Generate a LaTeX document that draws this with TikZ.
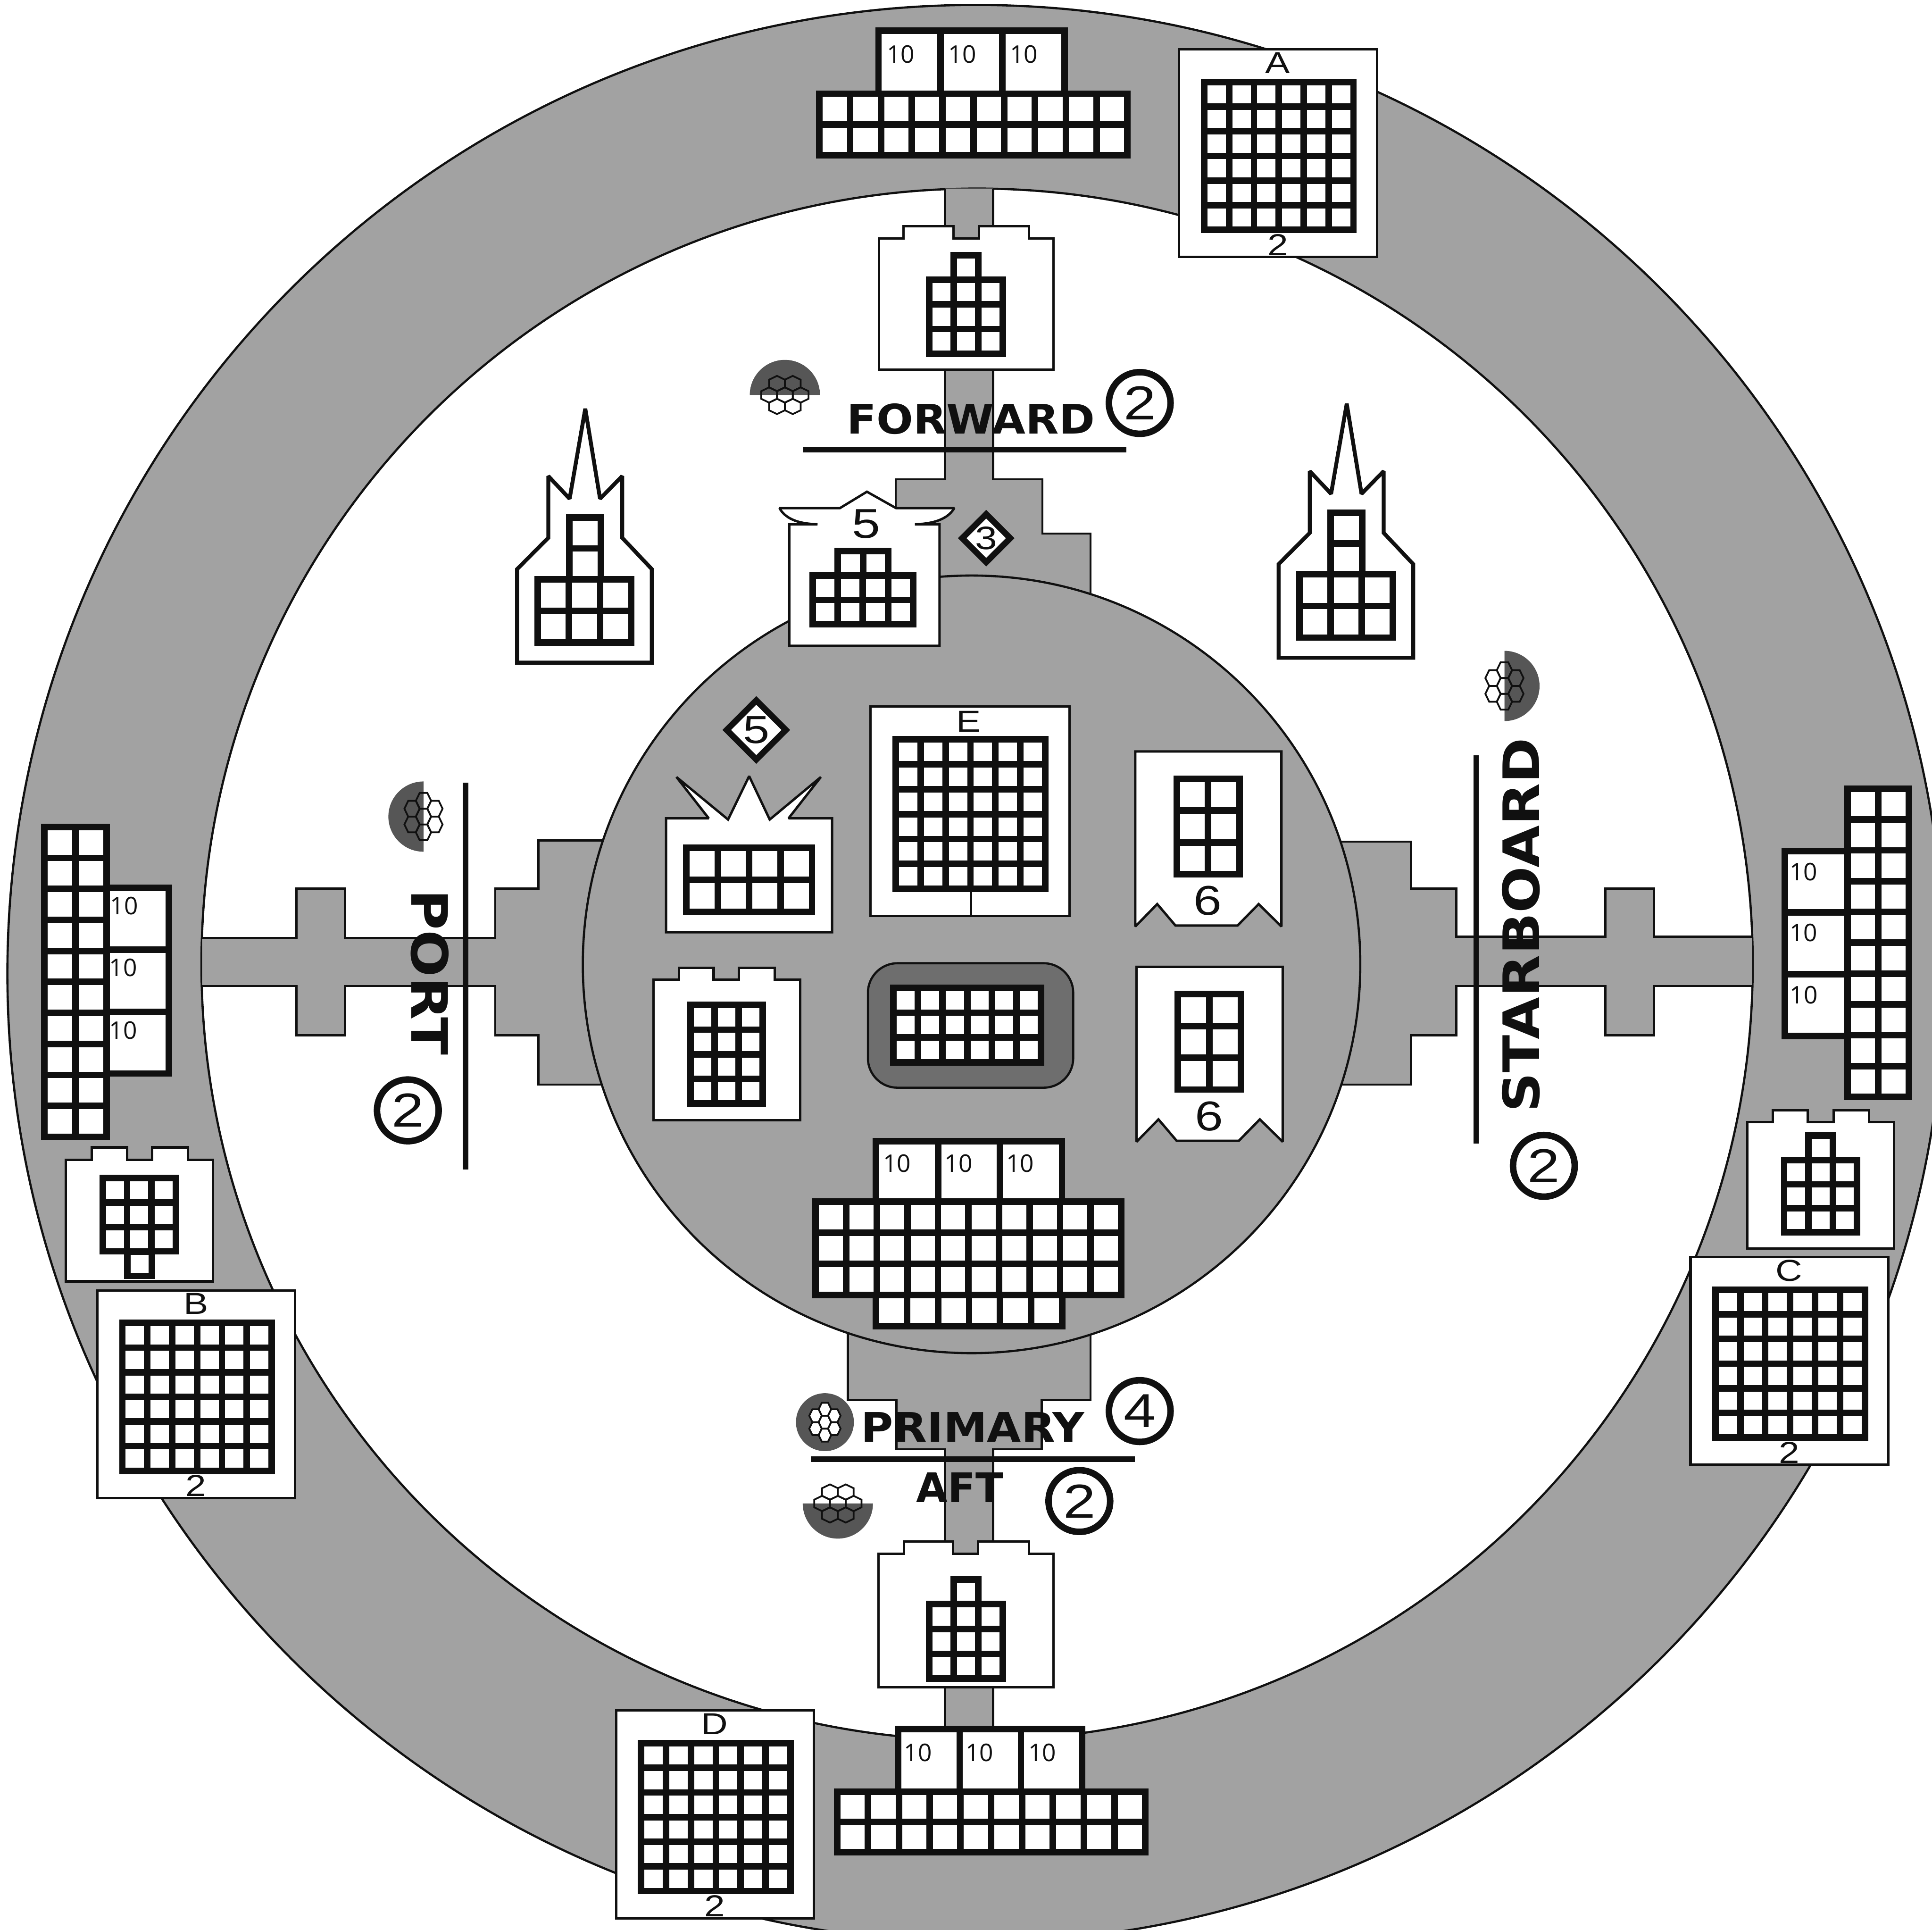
\documentclass[tikz,border=0pt]{standalone}
\usepackage{fontspec}
\setmainfont{Liberation Sans}
\newfontfamily\widefont[FakeStretch=1.22]{Liberation Sans}
\newfontfamily\cellfont{Open Sans}
\newfontfamily\deckfont{DejaVu Sans}
\usetikzlibrary{shapes.geometric}
\definecolor{ringgray}{HTML}{A2A2A2}
\definecolor{domegray}{HTML}{565656}
\definecolor{padgray}{HTML}{6E6E6E}
\definecolor{inkblack}{HTML}{101010}
\tikzset{
  hullline/.style={draw=inkblack,line width=0.5pt},
  cardline/.style={draw=inkblack,line width=0.55pt,fill=white,miter limit=2},
  spireline/.style={draw=inkblack,line width=0.9pt,fill=white,miter limit=2},
  tileline/.style={draw=inkblack,line width=1.5pt,fill=white},
  deckrule/.style={draw=inkblack,line width=1.3pt},
  decklabel/.style={font=\deckfont\bfseries\fontsize{9.4}{10}\selectfont,text=inkblack,inner sep=0pt},
  sidelabel/.style={font=\deckfont\bfseries\fontsize{11.6}{12}\selectfont,text=inkblack,inner sep=0pt},
  cellnum/.style={font=\cellfont\fontsize{5.6}{6}\selectfont,text=inkblack,inner sep=0pt},
  cardnum/.style={font=\widefont\fontsize{7}{8}\selectfont,text=inkblack,inner sep=0pt},
  bignum/.style={font=\widefont\fontsize{9.6}{10}\selectfont,text=inkblack,inner sep=0pt},
  ringnum/.style={circle,draw=inkblack,line width=1.5pt,fill=white,minimum size=0.5cm,inner sep=0pt,
    font=\widefont\fontsize{11}{12}\selectfont,text=inkblack},
  badge/.style={diamond,draw=inkblack,line width=1.4pt,fill=white,inner sep=0pt,text=inkblack},
  hexcluster/.pic={
    \foreach \hx/\hy in {-6.4/-9.3,6.4/-9.3,-12.8/0,0/0,12.8/0,-6.4/9.3,6.4/9.3}{
      \draw[draw=inkblack,line width=0.4pt,fill=#1] (\hx,\hy-6.2) -- ++(6.4,3.1) -- ++(0,6.2) -- ++(-6.4,3.1)
        -- ++(-6.4,-3.1) -- ++(0,-6.2) -- cycle;
    }
  },
  halfdome/.pic={
    \fill[domegray] (-28.5,0) .. controls (-28.5,-15.7) and (-15.7,-28.5) .. (0,-28.5)
      .. controls (15.7,-28.5) and (28.5,-15.7) .. (28.5,0) -- cycle;
  }
}
\newcommand{\gridblock}[6]{%
  \foreach \col in {1,...,#3}{\foreach \row in {1,...,#4}{
    \draw[tileline] ({#1+(\col-1)*#5},{#2+(\row-1)*#6}) rectangle ++(#5,#6);
  }}}
\begin{document}
\begin{tikzpicture}[x=0.01cm,y=-0.01cm]
  \useasboundingbox (0,0) rectangle (1568,1566);
  \clip (0,0) rectangle (1568,1566);
  % hull
  \draw[hullline,fill=ringgray] (792,790) circle (786);
  \draw[hullline,fill=white] (793,782.5) circle (629.5);
  % corridors, left open where they meet the ring
  \filldraw[hullline,fill=ringgray] (767,153) -- (767,389) -- (727,389) -- (727,520) -- (885,520) -- (885,433) -- (846,433) -- (846,389) -- (806,389) -- (806,153);
  \filldraw[hullline,fill=ringgray] (767,1412) -- (767,1176) -- (727.5,1176) -- (727.5,1136) -- (688,1136) -- (688,1060) -- (885,1060) -- (885,1136) -- (845.5,1136) -- (845.5,1176) -- (806,1176) -- (806,1412);
  \filldraw[hullline,fill=ringgray] (164,761) -- (240.5,761) -- (240.5,721) -- (280,721) -- (280,761) -- (402,761) -- (402,721) -- (437,721) -- (437,682) -- (510,682) -- (510,880) -- (437,880) -- (437,840) -- (402,840) -- (402,800) -- (280,800) -- (280,840) -- (240.5,840) -- (240.5,800) -- (164,800);
  \filldraw[hullline,fill=ringgray] (1422,760) -- (1342.5,760) -- (1342.5,721) -- (1303,721) -- (1303,760) -- (1182,760) -- (1182,721) -- (1145,721) -- (1145,683) -- (1070,683) -- (1070,880) -- (1145,880) -- (1145,840) -- (1182,840) -- (1182,800) -- (1303,800) -- (1303,840) -- (1342.5,840) -- (1342.5,800) -- (1422,800);
  \draw[hullline,fill=ringgray] (788.5,782.5) circle (315.5);
  % lettered cards
  \foreach \cx/\cy/\lab in {957/40/A,79/1047/B,1372/1020/C,500/1388/D}{
    \draw[cardline] (\cx,\cy) rectangle ++(160.5,168.5);
    \gridblock{\cx+20.3}{\cy+26.5}{6}{6}{20.2}{20}
    \node[cardnum] (card\lab) at (\cx+80,\cy+11) {\lab};
    \node[cardnum] (count\lab) at (\cx+80,\cy+158.5) {2};
  }
  % tower tiles
  \draw[cardline] (713.4,300) -- (713.4,193.4) -- (733.4,193.4) -- (733.4,183.5) -- (773.8,183.5) -- (773.8,193.4) -- (794.6,193.4) -- (794.6,183.5) -- (835,183.5) -- (835,193.4) -- (855,193.4) -- (855,300) -- cycle;
  \draw[cardline] (713,1369) -- (713,1260.8) -- (733.5,1260.8) -- (733.5,1250.7) -- (773.6,1250.7) -- (773.6,1260.8) -- (793.7,1260.8) -- (793.7,1250.7) -- (835,1250.7) -- (835,1260.8) -- (855,1260.8) -- (855,1369) -- cycle;
  \draw[cardline] (530.4,909) -- (530.4,795) -- (551.2,795) -- (551.2,785.2) -- (579.2,785.2) -- (579.2,795) -- (599.6,795) -- (599.6,785.2) -- (628.7,785.2) -- (628.7,795) -- (649.5,795) -- (649.5,909) -- cycle;
  \draw[cardline] (53.4,1039.7) -- (53.4,941) -- (74.6,941) -- (74.6,931) -- (103,931) -- (103,941) -- (123.3,941) -- (123.3,931) -- (152.5,931) -- (152.5,941) -- (173,941) -- (173,1039.7) -- cycle;
  \draw[cardline] (1418,1013) -- (1418,910.4) -- (1438.7,910.4) -- (1438.7,900.8) -- (1467.3,900.8) -- (1467.3,910.4) -- (1488.2,910.4) -- (1488.2,900.8) -- (1516.8,900.8) -- (1516.8,910.4) -- (1537,910.4) -- (1537,1013) -- cycle;
  % winged tile
  \draw[cardline] (640.6,524) -- (640.6,425.4) -- (663.5,425.4) .. controls (646,425) and (637,420) .. (632.6,412.3) -- (681.7,412.3) -- (703.6,399) -- (727.2,412.3) -- (774.5,412.3) .. controls (770,420) and (760,425) .. (742.5,425.4) -- (762.5,425.4) -- (762.5,524) -- cycle;
  \node[bignum] (wingnum) at (703,425) {5};
  % crown tile
  \draw[cardline] (540.6,756.5) -- (540.6,664) -- (575.2,664) -- (549,630.5) -- (590.9,665) -- (608,629.8) -- (624.7,665) -- (666.2,630.5) -- (640,664) -- (675.3,664) -- (675.3,756.5) -- cycle;
  % tile E
  \draw[cardline] (706.6,573.4) rectangle (868.2,743.4);
  \draw[hullline] (788,723) -- (788,743.4);
  \node[cardnum] (cardE) at (786,585.5) {E};
  % pad
  \draw[hullline,fill=padgray,rounded corners=0.24cm] (704.4,781.6) rectangle (871,882.6);
  % banners
  \foreach \sy/\num in {0/upper,174.7/lower}{
    \begin{scope}[shift={(\sy/174.7,\sy)}]
      \draw[cardline] (921.4,609.8) -- (1040,609.8) -- (1040,751.8) -- (1021.5,733.6) -- (1004.4,751) -- (954,751) -- (939.2,733.6) -- (921.4,751.8) -- cycle;
      \node[bignum] (banner\num) at (980.3,731) {6};
    \end{scope}
  }
  % spires
  \foreach \sx/\sy in {0/0,-618/4}{
    \begin{scope}[shift={(\sx,\sy)}]
      \draw[spireline] (1037.7,533.7) -- (1037.7,457.8) -- (1063,432.4) -- (1063,382.3) -- (1080.3,400.7) -- (1093,327.6) -- (1105,400.7) -- (1123,382.3) -- (1123,432.4) -- (1147,457.8) -- (1147,533.7) -- cycle;
      \gridblock{1054.5}{466}{3}{2}{25.3}{25.7}
      \gridblock{1080}{416}{1}{2}{25.5}{25}
    \end{scope}
  }
  % cell blocks: left, top, cols, rows, cell width, cell height
  \foreach \gx/\gy/\nc/\nr/\cw/\ch in {
    665/76/10/2/25/25, 713/25/3/1/50.3/51,
    754/227/3/3/20/20, 774/207/1/1/20/20,
    754/1301.5/3/3/20/20.2, 774/1281.5/1/1/20/20,
    659.5/467/4/2/20.4/19.7, 680/447/2/1/20.4/20,
    557/688/4/2/25.5/26,
    727/600/6/6/20.2/20.2,
    725/801.5/6/3/20/20.2,
    955/632/2/3/25.5/25.8, 956/806.7/2/3/25.5/25.8,
    560.5/815.5/3/4/19.5/20,
    662/975/10/3/24.8/25.3, 711/1051/6/1/25.17/25, 711/926/3/1/50.3/49,
    729/1403/3/1/49.8/51, 679.5/1454/10/2/25/24.5,
    36/671/2/10/25.2/25.15, 86.5/720.5/1/3/50.5/50.2,
    83.5/956/3/3/19.7/19.8, 103.5/1015.5/1/1/19.7/19.8,
    1499.5/640/2/10/24.8/25, 1448.5/690.5/1/3/51/50,
    1448/941.5/3/3/19.7/19.5, 1467.7/921.5/1/1/19.7/20
  }{
    \gridblock{\gx}{\gy}{\nc}{\nr}{\cw}{\ch}
  }
  % cell numbers
  \foreach \nx/\ny/\tag in {731/44/ta,781/44/tb,831/44/tc,728/944/ma,778/944/mb,828/944/mc,745/1422/aa,795/1422/ab,846/1422/ac,100.7/735/pa,100/785/pb,100/836/pc,1463.7/707.6/sa,1463.7/757/sb,1464/807.3/sc}{
    \node[cellnum] (ten\tag) at (\nx,\ny) {10};
  }
  % deck labels and rules
  \draw[deckrule] (652,365) -- (914,365);
  \draw[deckrule] (658,1184) -- (921,1184);
  \draw[deckrule] (378,635) -- (378,949);
  \draw[deckrule] (1198,613) -- (1198,928);
  \node[decklabel] (forward) at (788,340) {\scalebox{1.06}[1]{FORWARD}};
  \node[decklabel] (primary) at (789.5,1158) {\scalebox{1.08}[1]{PRIMARY}};
  \node[decklabel] (aft) at (779,1207) {AFT};
  \node[sidelabel,rotate=-90] (port) at (349,789) {\scalebox{1.1}[1]{PORT}};
  \node[sidelabel,rotate=90] (starboard) at (1234.5,750.5) {\scalebox{1.09}[1]{STARBOARD}};
  \node[ringnum] (ringforward) at (925,327) {2};
  \node[ringnum] (ringport) at (331,901) {2};
  \node[ringnum] (ringstarboard) at (1253,946) {2};
  \node[ringnum] (ringprimary) at (925,1145) {4};
  \node[ringnum] (ringaft) at (876,1218) {2};
  \node[badge,minimum size=0.41cm,font=\widefont\fontsize{7.5}{8}\selectfont] (badgethree) at (800.4,436.7) {3};
  \node[badge,minimum size=0.5cm,font=\widefont\fontsize{9}{10}\selectfont] (badgefive) at (613.8,592.3) {5};
  % domes
  \foreach \dx/\dy/\dr in {637/320.5/0,343.7/662.6/90,1221/556.6/-90,680/1220/180}{
    \pic[rotate=\dr] at (\dx,\dy) {halfdome};
    \pic[rotate=\dr] at (\dx,\dy) {hexcluster=none};
  }
  \fill[domegray] (669.5,1154) circle (23.5);
  \pic[rotate=90,scale=0.82] at (669.5,1154) {hexcluster=white};
\end{tikzpicture}
\end{document}
